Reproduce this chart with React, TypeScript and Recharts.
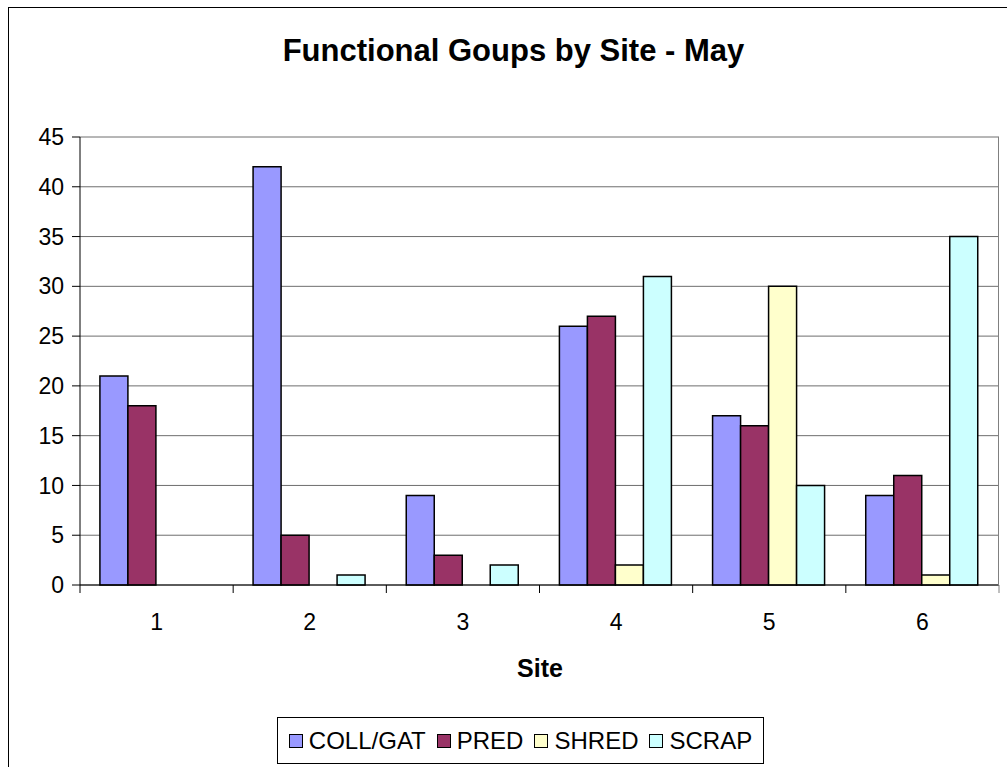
import React from 'react';
import { BarChart, Bar, XAxis, YAxis, CartesianGrid } from 'recharts';

const sites = ['1', '2', '3', '4', '5', '6'];
const collGat = [21, 42, 9, 26, 17, 9];
const pred = [18, 5, 3, 27, 16, 11];
const shred = [0, 0, 0, 2, 30, 1];
const scrap = [0, 1, 2, 31, 10, 35];
const yTicks = [0, 5, 10, 15, 20, 25, 30, 35, 40, 45];

const series = [
  { key: 'COLL/GAT', color: '#9999FF' },
  { key: 'PRED', color: '#993366' },
  { key: 'SHRED', color: '#FFFFCC' },
  { key: 'SCRAP', color: '#CCFFFF' },
];

const data = sites.map((site, i) => ({
  site,
  'COLL/GAT': collGat[i],
  PRED: pred[i],
  SHRED: shred[i],
  SCRAP: scrap[i],
}));

const FONT = '"Liberation Sans", Arial, sans-serif';

// Excel puts the x tick marks on the category boundaries, not the centres
const SiteTick = (props: any) => {
  const { x, y, payload, index } = props;
  const half = payload?.offset ?? 76.5;
  return (
    <g>
      <line x1={x - half} y1={y - 8} x2={x - half} y2={y} stroke="#000" />
      {index === sites.length - 1 && (
        <line x1={x + half} y1={y - 8} x2={x + half} y2={y} stroke="#808080" />
      )}
      <text x={x} y={y + 37} textAnchor="middle" fontSize={23} fontFamily={FONT} fill="#000">
        {payload.value}
      </text>
    </g>
  );
};

export default function App() {
  return (
    <div
      style={{
        position: 'absolute',
        left: 0,
        top: 0,
        width: 1007,
        height: 767,
        overflow: 'hidden',
        background: '#fff',
        fontFamily: FONT,
      }}
    >
      <div
        style={{
          position: 'absolute',
          left: 8,
          top: 7,
          width: 1020,
          height: 800,
          borderLeft: '1.5px solid #000',
          borderTop: '1.5px solid #000',
        }}
      />
      <div
        style={{
          position: 'absolute',
          left: 0,
          width: 1027,
          top: 33,
          textAlign: 'center',
          fontSize: 31,
          fontWeight: 'bold',
        }}
      >
        Functional Goups by Site - May
      </div>
      <div style={{ position: 'absolute', left: 0, top: 0 }}>
        <BarChart
          width={1007}
          height={767}
          data={data}
          margin={{ top: 137, right: 8, bottom: 142, left: 0 }}
          barCategoryGap="13%"
          barGap={0}
        >
          <CartesianGrid vertical={false} stroke="#6e6e6e" strokeWidth={1} />
          <XAxis
            dataKey="site"
            height={40}
            stroke="#000"
            tickLine={false}
            tick={<SiteTick />}
            interval={0}
          />
          <YAxis
            width={80}
            domain={[0, 45]}
            ticks={yTicks}
            interval={0}
            stroke="#000"
            tickSize={8}
            tick={{ fill: '#000', fontSize: 23, fontFamily: FONT, dx: -6 }}
          />
          {series.map((s) => (
            <Bar
              key={s.key}
              dataKey={s.key}
              fill={s.color}
              stroke="#000"
              strokeWidth={1.5}
              isAnimationActive={false}
            />
          ))}
        </BarChart>
      </div>
      <div
        style={{
          position: 'absolute',
          left: 998,
          top: 137,
          width: 1,
          height: 448,
          background: '#808080',
        }}
      />
      <div
        style={{
          position: 'absolute',
          left: 0,
          width: 1080,
          top: 654,
          textAlign: 'center',
          fontSize: 25,
          fontWeight: 'bold',
        }}
      >
        Site
      </div>
      <div
        style={{
          position: 'absolute',
          left: 277,
          top: 717,
          width: 487,
          height: 47,
          border: '1px solid #000',
          boxSizing: 'border-box',
          display: 'flex',
          alignItems: 'center',
          justifyContent: 'center',
          gap: 11,
          whiteSpace: 'nowrap',
        }}
      >
        {series.map((s) => (
          <div key={s.key} style={{ display: 'flex', alignItems: 'center', gap: 6 }}>
            <span
              style={{
                width: 12,
                height: 12,
                background: s.color,
                border: '1.5px solid #000',
                display: 'inline-block',
              }}
            />
            <span style={{ fontSize: 24 }}>{s.key}</span>
          </div>
        ))}
      </div>
    </div>
  );
}
